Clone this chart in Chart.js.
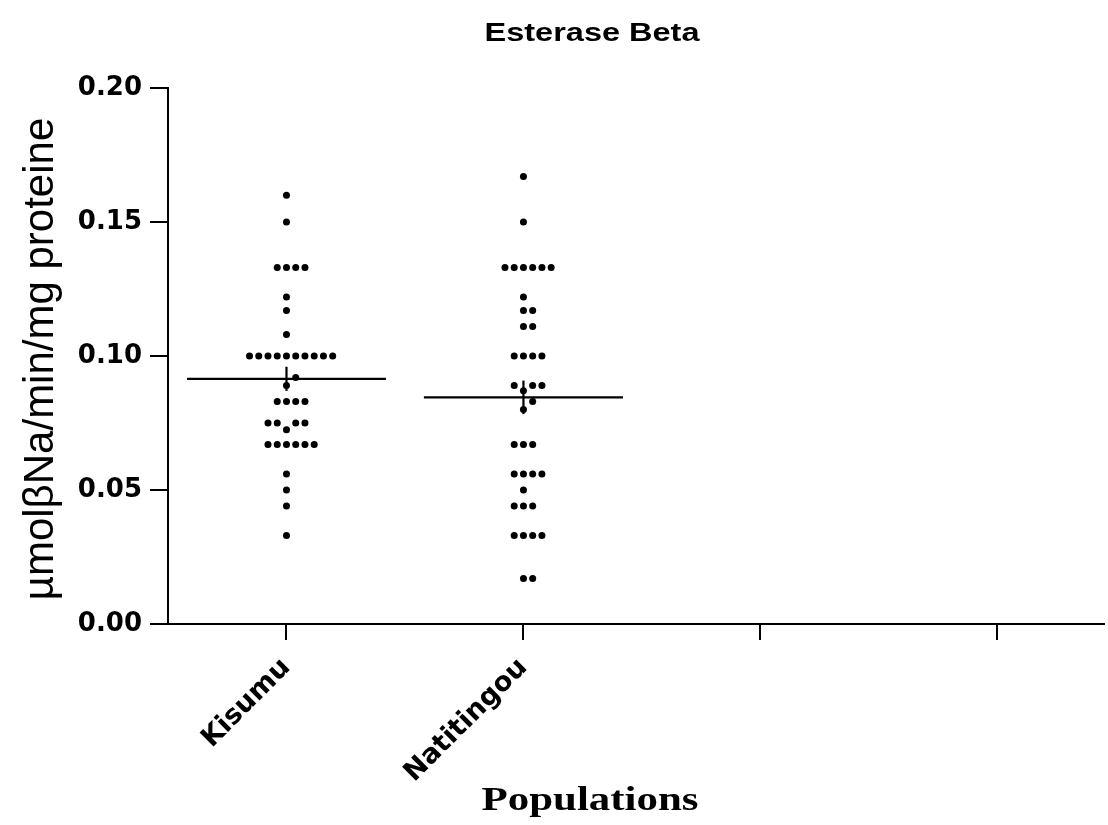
<!DOCTYPE html>
<html>
<head>
<meta charset="utf-8">
<title>Esterase Beta</title>
<script src="https://cdn.jsdelivr.net/npm/chart.js@4/dist/chart.umd.min.js"></script>
<style>
  body { margin: 0; background: #fff; }
  .box { width: 1108px; height: 825px; position: relative; }
</style>
</head>
<body>
<div class="box"><canvas id="esterase"></canvas></div>
<script>
// data
const populations = ["Kisumu", "Natitingou", "", ""];

const kisumu = [
  0.160, 0.150, 0.133, 0.133, 0.133, 0.133, 0.122, 0.117, 0.108,
  0.100, 0.100, 0.100, 0.100, 0.100, 0.100, 0.100, 0.100, 0.100, 0.100,
  0.092, 0.089, 0.083, 0.083, 0.083, 0.083, 0.075, 0.075, 0.075, 0.075, 0.0725,
  0.067, 0.067, 0.067, 0.067, 0.067, 0.067, 0.056, 0.050, 0.044, 0.033,
];

const natitingou = [
  0.167, 0.150, 0.133, 0.133, 0.133, 0.133, 0.133, 0.133, 0.122, 0.117, 0.117,
  0.111, 0.111, 0.100, 0.100, 0.100, 0.100, 0.089, 0.089, 0.089, 0.087,
  0.083, 0.080, 0.067, 0.067, 0.067, 0.056, 0.056, 0.056, 0.056, 0.050,
  0.044, 0.044, 0.044, 0.033, 0.033, 0.033, 0.033, 0.017, 0.017,
];

const yTicks = [0, 0.05, 0.1, 0.15, 0.2];

const chartTitle = "Esterase Beta";
const yTitle = "\u00b5mol\u03b2Na/min/mg proteine";
const xTitle = "Populations";

// scatter-dot layout (GraphPad style column)
const DOT_STEP = 0.039;   // category units between neighbour dots
const PX_X = 238, PX_Y = 2680, MIN_GAP = 9;

function swarm(values, center) {
  const placed = [];
  values.slice().sort((a, b) => a - b).forEach(v => {
    for (let k = 0; ; k++) {
      const slot = k === 0 ? 0 : (k % 2 ? (k + 1) / 2 : -k / 2);
      const x = center + slot * DOT_STEP;
      const hit = placed.some(p => Math.hypot((p.x - x) * PX_X, (p.y - v) * PX_Y) < MIN_GAP);
      if (!hit) { placed.push({ x: x, y: v }); break; }
    }
  });
  return placed;
}

function meanSem(values) {
  const n = values.length;
  const m = values.reduce((s, v) => s + v, 0) / n;
  const sd = Math.sqrt(values.reduce((s, v) => s + (v - m) ** 2, 0) / (n - 1));
  return { mean: m, sem: sd / Math.sqrt(n) };
}

const groups = [kisumu, natitingou];
const datasets = [];
groups.forEach((vals, i) => {
  const st = meanSem(vals);
  datasets.push({
    data: swarm(vals, i),
    backgroundColor: "#000",
    borderWidth: 0,
    pointRadius: 3.5,
  });
  datasets.push({
    data: [{ x: i - 0.42, y: st.mean }, { x: i + 0.42, y: st.mean }],
    showLine: true, borderColor: "#000", borderWidth: 2.2, pointRadius: 0,
  });
  datasets.push({
    data: [{ x: i, y: st.mean - st.sem }, { x: i, y: st.mean + st.sem }],
    showLine: true, borderColor: "#000", borderWidth: 2.2, pointRadius: 0,
  });
});

// title + axis titles, drawn wide like the original export
const figureLabels = {
  id: "figureLabels",
  afterDraw(chart) {
    const c = chart.ctx;
    c.save();
    c.fillStyle = "#000";
    c.textAlign = "center";
    c.textBaseline = "alphabetic";

    c.save();
    c.font = "bold 25px 'Liberation Sans'";
    c.translate(592, 41);
    c.scale(1.3, 1);
    c.fillText(chartTitle, 0, 0);
    c.restore();

    c.save();
    c.font = "bold 33px 'Liberation Serif'";
    c.translate(590, 810);
    c.scale(1.3, 1);
    c.fillText(xTitle, 0, 0);
    c.restore();

    c.save();
    c.font = "42px 'Liberation Sans'";
    c.translate(53, 359);
    c.rotate(-Math.PI / 2);
    c.fillText(yTitle, 0, 0);
    c.restore();

    c.restore();
  },
};

Chart.defaults.color = "#000";

new Chart(document.getElementById("esterase"), {
  type: "scatter",
  data: { datasets: datasets },
  options: {
    responsive: true,
    maintainAspectRatio: false,
    animation: false,
    layout: { padding: { top: 88, left: 0, right: 0, bottom: 0 } },
    plugins: {
      legend: { display: false },
      tooltip: { enabled: false },
    },
    scales: {
      x: {
        type: "linear",
        min: -0.5,
        max: 3.45,
        afterBuildTicks: axis => { axis.ticks = populations.map((p, i) => ({ value: i })); },
        afterFit: axis => { axis.height = 201; },
        border: { color: "#000", width: 2 },
        grid: { drawOnChartArea: false, color: "#000", lineWidth: 2, tickLength: 16 },
        ticks: {
          font: { family: "DejaVu Sans", weight: "bold", size: 27 },
          minRotation: 45,
          maxRotation: 45,
          padding: 12,
          callback: v => populations[v],
        },
      },
      y: {
        min: 0,
        max: 0.2,
        afterBuildTicks: axis => { axis.ticks = yTicks.map(v => ({ value: v })); },
        afterFit: axis => { axis.width = 168; },
        border: { color: "#000", width: 2 },
        grid: { drawOnChartArea: false, color: "#000", lineWidth: 2, tickLength: 18 },
        ticks: {
          font: { family: "DejaVu Sans", weight: "bold", size: 26 },
          padding: 8,
          callback: v => v.toFixed(2),
        },
      },
    },
  },
  plugins: [figureLabels],
});
</script>
</body>
</html>
